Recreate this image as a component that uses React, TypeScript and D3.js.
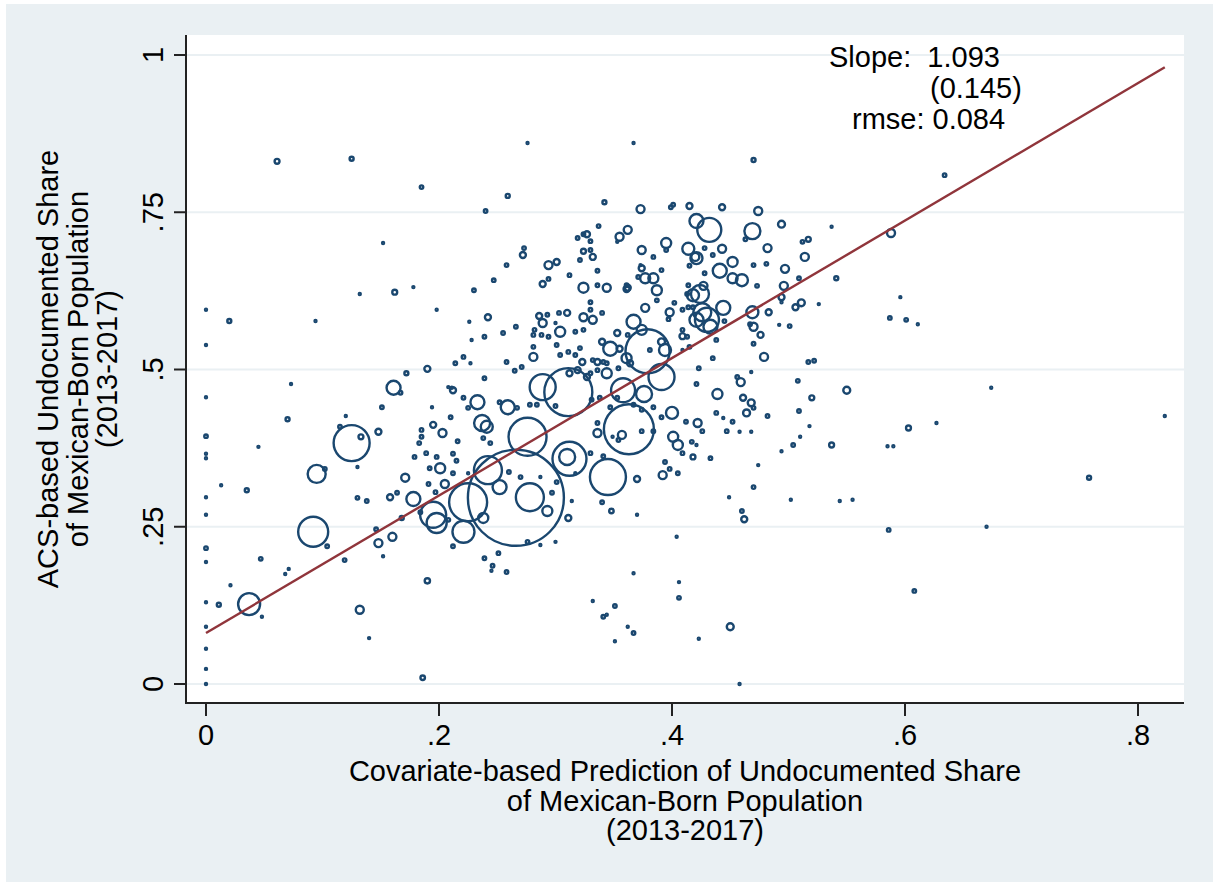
import React from 'react';
import * as d3 from 'd3';

// Axis ticks
const xTicks = [0, 0.2, 0.4, 0.6, 0.8];
const xTickLabels = ['0', '.2', '.4', '.6', '.8'];
const yTicks = [0, 0.25, 0.5, 0.75, 1];
const yTickLabels = ['0', '.25', '.5', '.75', '1'];

// Weighted least-squares fit reported on the chart
const fitSlope = 1.093;
const fitSE = 0.145;
const fitRmse = 0.084;
const fitIntercept = 0.081;

// Titles
const xTitle = ['Covariate-based Prediction of Undocumented Share', 'of Mexican-Born Population', '(2013-2017)'];
const yTitle = ['ACS-based Undocumented Share', 'of Mexican-Born Population', '(2013-2017)'];

// Areas: [covariate-based prediction, ACS-based share, Mexican-born population (thousands)]
const largeAreas: [number, number, number][] = [
  [0.266, 0.296, 2304], [0.363, 0.405, 625], [0.311, 0.464, 576], [0.379, 0.529, 484], [0.276, 0.393, 361],
  [0.345, 0.329, 324], [0.312, 0.358, 289], [0.225, 0.289, 361], [0.125, 0.383, 324], [0.092, 0.242, 225],
  [0.278, 0.297, 196], [0.242, 0.340, 196], [0.289, 0.472, 169], [0.195, 0.269, 169], [0.391, 0.488, 169],
  [0.358, 0.467, 144], [0.432, 0.722, 144], [0.430, 0.579, 144], [0.198, 0.256, 100], [0.221, 0.242, 121],
  [0.037, 0.127, 121], [0.310, 0.361, 64], [0.376, 0.461, 64], [0.469, 0.720, 64], [0.095, 0.334, 81],
  [0.424, 0.620, 81], [0.426, 0.591, 81], [0.367, 0.576, 49], [0.233, 0.448, 49], [0.237, 0.415, 64],
  [0.259, 0.440, 49], [0.252, 0.313, 49], [0.178, 0.294, 49], [0.161, 0.471, 49], [0.421, 0.579, 49],
  [0.421, 0.736, 49], [0.441, 0.657, 49], [0.444, 0.598, 49], [0.433, 0.568, 49], [0.347, 0.533, 49],
  [0.418, 0.618, 36], [0.460, 0.642, 36], [0.414, 0.692, 36], [0.421, 0.677, 36], [0.469, 0.591, 36],
  [0.241, 0.409, 36], [0.400, 0.431, 36], [0.394, 0.531, 36],
];

const mediumAreas: [number, number, number][] = [
  [0.293, 0.275, 25], [0.238, 0.264, 25], [0.201, 0.343, 25], [0.401, 0.393, 25], [0.405, 0.380, 25],
  [0.344, 0.494, 25], [0.304, 0.560, 25], [0.374, 0.563, 25], [0.395, 0.701, 25], [0.452, 0.671, 25],
  [0.452, 0.645, 25], [0.377, 0.645, 25], [0.384, 0.645, 25], [0.387, 0.626, 25], [0.361, 0.518, 25],
  [0.324, 0.630, 25], [0.439, 0.461, 25], [0.470, 0.568, 16], [0.205, 0.318, 16], [0.203, 0.399, 16],
  [0.336, 0.399, 16], [0.357, 0.396, 16], [0.392, 0.332, 16], [0.324, 0.583, 16], [0.332, 0.579, 16],
  [0.281, 0.520, 16], [0.344, 0.630, 16], [0.398, 0.591, 16], [0.377, 0.598, 16], [0.289, 0.574, 16],
  [0.132, 0.118, 16], [0.148, 0.224, 16], [0.160, 0.234, 16], [0.171, 0.328, 16], [0.373, 0.755, 16],
  [0.474, 0.752, 16], [0.482, 0.693, 16], [0.514, 0.679, 16], [0.443, 0.692, 16], [0.497, 0.660, 16],
  [0.496, 0.633, 16], [0.427, 0.633, 16], [0.479, 0.520, 16], [0.459, 0.480, 16], [0.294, 0.666, 16],
  [0.374, 0.690, 16], [0.420, 0.679, 16], [0.362, 0.722, 16], [0.355, 0.711, 16], [0.588, 0.717, 16],
  [0.550, 0.467, 12], [0.422, 0.415, 16], [0.464, 0.431, 12], [0.468, 0.447, 12], [0.461, 0.455, 9],
  [0.462, 0.262, 9], [0.450, 0.091, 12], [0.494, 0.731, 12], [0.483, 0.591, 9], [0.494, 0.615, 9],
  [0.506, 0.599, 9], [0.511, 0.606, 12], [0.476, 0.555, 9], [0.415, 0.760, 9], [0.443, 0.758, 9],
  [0.409, 0.553, 9], [0.391, 0.544, 12], [0.353, 0.558, 9], [0.340, 0.544, 9], [0.355, 0.533, 9],
  [0.336, 0.512, 9], [0.364, 0.510, 9], [0.323, 0.512, 9], [0.319, 0.499, 9], [0.327, 0.488, 9],
  [0.312, 0.494, 9], [0.310, 0.590, 9], [0.361, 0.628, 9], [0.374, 0.661, 9], [0.301, 0.671, 9],
  [0.332, 0.679, 9], [0.327, 0.715, 9], [0.289, 0.636, 9], [0.272, 0.682, 9], [0.362, 0.630, 9],
  [0.158, 0.297, 9], [0.148, 0.401, 9], [0.212, 0.467, 9], [0.195, 0.412, 9], [0.311, 0.264, 9],
  [0.370, 0.326, 9], [0.286, 0.585, 9], [0.242, 0.583, 9], [0.190, 0.501, 9],
];

const smallAreas: [number, number, number][] = [
  [0.178, 0.631, 1], [0.230, 0.626, 3], [0.198, 0.595, 1], [0.226, 0.576, 1], [0.266, 0.568, 3],
  [0.255, 0.558, 3], [0.239, 0.552, 3], [0.228, 0.547, 1], [0.214, 0.510, 3], [0.221, 0.520, 3],
  [0.227, 0.510, 1], [0.258, 0.512, 3], [0.265, 0.498, 3], [0.271, 0.504, 3], [0.172, 0.494, 4],
  [0.239, 0.486, 3], [0.211, 0.471, 1], [0.221, 0.455, 3], [0.194, 0.440, 1], [0.210, 0.424, 3],
  [0.225, 0.439, 3], [0.252, 0.448, 3], [0.267, 0.439, 3], [0.278, 0.444, 3], [0.284, 0.444, 3],
  [0.300, 0.442, 3], [0.185, 0.404, 3], [0.185, 0.393, 3], [0.183, 0.383, 3], [0.216, 0.386, 3],
  [0.238, 0.391, 3], [0.244, 0.383, 3], [0.179, 0.361, 3], [0.189, 0.367, 3], [0.198, 0.361, 3],
  [0.212, 0.366, 3], [0.215, 0.355, 3], [0.192, 0.343, 3], [0.212, 0.335, 3], [0.225, 0.335, 1],
  [0.260, 0.337, 3], [0.270, 0.329, 3], [0.287, 0.329, 1], [0.301, 0.321, 3], [0.297, 0.304, 3],
  [0.314, 0.291, 1], [0.317, 0.335, 1], [0.330, 0.367, 3], [0.341, 0.362, 3], [0.340, 0.289, 3],
  [0.348, 0.275, 5], [0.370, 0.269, 1], [0.184, 0.273, 3], [0.197, 0.305, 3], [0.208, 0.261, 3],
  [0.212, 0.219, 3], [0.239, 0.200, 3], [0.246, 0.188, 3], [0.258, 0.178, 3], [0.251, 0.208, 3],
  [0.276, 0.226, 3], [0.287, 0.221, 1], [0.300, 0.226, 1], [0.367, 0.176, 1], [0.404, 0.234, 1],
  [0.412, 0.417, 3], [0.417, 0.385, 3], [0.418, 0.361, 6], [0.394, 0.353, 3], [0.398, 0.342, 3],
  [0.405, 0.335, 3], [0.367, 0.444, 3], [0.374, 0.436, 3], [0.384, 0.440, 3], [0.391, 0.424, 3],
  [0.374, 0.402, 3], [0.384, 0.402, 3], [0.409, 0.367, 3], [0.338, 0.455, 3], [0.331, 0.452, 3],
  [0.347, 0.440, 3], [0.353, 0.455, 3], [0.336, 0.415, 3], [0.349, 0.393, 1], [0.354, 0.388, 3],
  [0.413, 0.552, 3], [0.409, 0.563, 3], [0.409, 0.595, 3], [0.414, 0.634, 3], [0.418, 0.599, 3],
  [0.336, 0.499, 3], [0.330, 0.494, 3], [0.317, 0.523, 3], [0.321, 0.534, 3], [0.311, 0.528, 3],
  [0.304, 0.523, 3], [0.301, 0.539, 3], [0.294, 0.552, 3], [0.281, 0.536, 3], [0.281, 0.555, 3],
  [0.282, 0.563, 3], [0.288, 0.555, 3], [0.303, 0.590, 3], [0.293, 0.587, 3],
  [0.073, 0.477, 1], [0, 0.456, 1], [0.070, 0.421, 4], [0.151, 0.440, 3], [0.167, 0.463, 3],
  [0.120, 0.426, 1], [0, 0.394, 3], [0.133, 0.393, 6], [0.115, 0.409, 3], [0.045, 0.377, 1],
  [0, 0.366, 1], [0, 0.359, 1], [0.102, 0.342, 3], [0.130, 0.345, 1], [0.013, 0.316, 1],
  [0.035, 0.308, 4], [0, 0.297, 1], [0, 0.269, 1], [0.104, 0.219, 3], [0.130, 0.296, 3],
  [0.138, 0.291, 3], [0.146, 0.246, 3], [0.152, 0.203, 1], [0.119, 0.197, 3], [0.168, 0.264, 4],
  [0, 0.216, 3], [0, 0.194, 1], [0.047, 0.199, 3], [0.071, 0.183, 1], [0.068, 0.175, 1],
  [0.021, 0.157, 1], [0.011, 0.126, 4], [0.048, 0.107, 1], [0, 0.130, 1], [0, 0.091, 1],
  [0, 0.056, 1], [0, 0.024, 1], [0, 0, 1], [0.140, 0.073, 1], [0.190, 0.164, 7],
  [0.186, 0.010, 5], [0.164, 0.304, 3], [0.208, 0.472, 1], [0.191, 0.318, 3], [0, 0.595, 1],
  [0, 0.539, 1],
  [0.061, 0.831, 6], [0.125, 0.835, 4], [0.152, 0.701, 1], [0.132, 0.620, 1], [0.162, 0.623, 6],
  [0.020, 0.577, 4], [0.094, 0.577, 1],
  [0.276, 0.860, 1], [0.367, 0.860, 1], [0.185, 0.790, 3], [0.259, 0.776, 4], [0.240, 0.752, 3],
  [0.342, 0.766, 4], [0.399, 0.758, 3], [0.401, 0.762, 3], [0.415, 0.665, 3], [0.395, 0.690, 3],
  [0.384, 0.679, 3], [0.353, 0.703, 1], [0.337, 0.728, 3], [0.319, 0.709, 3], [0.330, 0.704, 3],
  [0.324, 0.688, 6], [0.330, 0.690, 3], [0.321, 0.674, 3], [0.336, 0.657, 3], [0.336, 0.634, 3],
  [0.273, 0.693, 3], [0.258, 0.666, 3], [0.247, 0.642, 3], [0.312, 0.650, 3], [0.294, 0.644, 3],
  [0.373, 0.666, 1], [0.391, 0.658, 3], [0.371, 0.647, 3],
  [0.470, 0.833, 4], [0.463, 0.707, 3], [0.512, 0.703, 3], [0.517, 0.707, 6], [0.428, 0.693, 3],
  [0.435, 0.682, 3], [0.481, 0.668, 3], [0.470, 0.666, 3], [0.509, 0.645, 3], [0.473, 0.633, 3],
  [0.541, 0.645, 4], [0.537, 0.727, 1], [0.428, 0.653, 3], [0.413, 0.620, 3], [0.414, 0.599, 3],
  [0.402, 0.606, 3], [0.397, 0.580, 3], [0.445, 0.577, 3], [0.467, 0.572, 3], [0.470, 0.541, 3],
  [0.492, 0.571, 1], [0.501, 0.569, 3], [0.494, 0.607, 1], [0.526, 0.604, 1], [0.517, 0.512, 3],
  [0.522, 0.514, 3], [0.508, 0.482, 3], [0.468, 0.496, 1], [0.456, 0.488, 3], [0.435, 0.518, 3],
  [0.438, 0.547, 3], [0.421, 0.477, 3], [0.423, 0.502, 3], [0.415, 0.536, 3], [0.409, 0.531, 1],
  [0.362, 0.555, 3], [0.344, 0.510, 3], [0.354, 0.502, 3], [0.381, 0.531, 3], [0.317, 0.560, 3],
  [0.300, 0.574, 1], [0.332, 0.515, 3], [0.341, 0.512, 3], [0.330, 0.595, 3], [0.330, 0.607, 3],
  [0.324, 0.563, 3], [0.340, 0.590, 3], [0.387, 0.610, 3], [0.324, 0.715, 3], [0.361, 0.634, 3],
  [0.470, 0.439, 3], [0.520, 0.455, 6], [0.438, 0.431, 3], [0.444, 0.423, 1], [0.452, 0.417, 3],
  [0.482, 0.426, 3], [0.509, 0.434, 3], [0.426, 0.402, 3], [0.447, 0.402, 3], [0.458, 0.401, 1],
  [0.468, 0.401, 1], [0.518, 0.410, 1], [0.510, 0.393, 1], [0.504, 0.380, 3], [0.537, 0.380, 6],
  [0.494, 0.370, 1], [0.421, 0.380, 1], [0.433, 0.359, 3], [0.474, 0.348, 1], [0.470, 0.313, 3],
  [0.449, 0.297, 1], [0.502, 0.293, 1], [0.544, 0.291, 1], [0.555, 0.293, 1], [0.460, 0.275, 3],
  [0.586, 0.245, 3], [0.603, 0.407, 6], [0.627, 0.415, 1], [0.585, 0.378, 1], [0.590, 0.378, 1],
  [0.608, 0.148, 3], [0.423, 0.072, 1], [0.458, 0, 1],
  [0.245, 0.180, 1], [0.406, 0.162, 1], [0.406, 0.137, 3], [0.332, 0.132, 1], [0.351, 0.124, 3],
  [0.341, 0.107, 3], [0.344, 0.110, 1], [0.362, 0.091, 1], [0.367, 0.081, 3], [0.351, 0.068, 1],
  [0.634, 0.809, 3], [0.596, 0.615, 1], [0.587, 0.582, 3], [0.601, 0.579, 3], [0.611, 0.572, 1],
  [0.674, 0.471, 1], [0.823, 0.426, 1], [0.758, 0.328, 4], [0.670, 0.250, 1],
];

const areas = [...largeAreas, ...mediumAreas, ...smallAreas];

const FONT = '"Liberation Sans", Arial, Helvetica, sans-serif';
const NAVY = '#1a476f';
const MAROON = '#90353b';
const BG = '#eaf0f3';

export default function App() {
  const plotLeft = 186;
  const plotRight = 1184;
  const plotTop = 35;
  const plotBottom = 703;

  const x = d3.scaleLinear().domain([0, 0.8]).range([206, 1138]);
  const y = d3.scaleLinear().domain([0, 1]).range([684, 55]);
  const maxPop = d3.max(areas, (d) => d[2]) as number;
  const r = d3.scaleSqrt().domain([0, maxPop]).range([0, 48]);

  const xExtent = d3.extent(areas, (d) => d[0]) as [number, number];
  const fitLine = d3
    .line<number>()
    .x((v) => x(v))
    .y((v) => y(fitIntercept + fitSlope * v));

  return (
    <svg
      width={1213}
      height={882}
      style={{ position: 'absolute', left: 0, top: 0, fontFamily: FONT }}
    >
      <rect x={0} y={0} width={1213} height={882} fill="#ffffff" />
      <rect x={6} y={4} width={1207} height={878} fill={BG} />
      <rect x={plotLeft} y={plotTop} width={plotRight - plotLeft} height={plotBottom - plotTop} fill="#ffffff" />

      {/* horizontal grid */}
      {yTicks.map((t) => (
        <line key={'g' + t} x1={plotLeft} x2={plotRight} y1={y(t)} y2={y(t)} stroke={BG} strokeWidth={2} />
      ))}

      {/* markers */}
      <g fill="none" stroke={NAVY} strokeWidth={2.4}>
        {areas.map((d, i) => (
          <circle key={i} cx={x(d[0])} cy={y(d[1])} r={r(d[2])} />
        ))}
      </g>

      {/* fitted line */}
      <path d={fitLine(xExtent) as string} fill="none" stroke={MAROON} strokeWidth={2.4} />

      {/* axes */}
      <line x1={plotLeft} x2={plotLeft} y1={plotTop} y2={plotBottom + 1} stroke="#222" strokeWidth={2} />
      <line x1={plotLeft - 1} x2={plotRight} y1={plotBottom} y2={plotBottom} stroke="#222" strokeWidth={2} />

      {yTicks.map((t, i) => (
        <g key={'yt' + t}>
          <line x1={plotLeft - 12} x2={plotLeft} y1={y(t)} y2={y(t)} stroke="#222" strokeWidth={2} />
          <text
            transform={`translate(163,${y(t)}) rotate(-90)`}
            textAnchor="middle"
            fontSize={29}
            fill="#000"
          >
            {yTickLabels[i]}
          </text>
        </g>
      ))}

      {xTicks.map((t, i) => (
        <g key={'xt' + t}>
          <line x1={x(t)} x2={x(t)} y1={plotBottom} y2={plotBottom + 13} stroke="#222" strokeWidth={2} />
          <text x={x(t)} y={745} textAnchor="middle" fontSize={29} fill="#000">
            {xTickLabels[i]}
          </text>
        </g>
      ))}

      {/* axis titles */}
      {xTitle.map((s, i) => (
        <text key={'xa' + i} x={(plotLeft + plotRight) / 2} y={781 + i * 29.5} textAnchor="middle" fontSize={29} fill="#000">
          {s}
        </text>
      ))}
      {yTitle.map((s, i) => (
        <text
          key={'ya' + i}
          transform={`translate(${58 + i * 29.5},${(plotTop + plotBottom) / 2}) rotate(-90)`}
          textAnchor="middle"
          fontSize={29}
          fill="#000"
        >
          {s}
        </text>
      ))}

      {/* fit statistics */}
      <g fontSize={29} fill="#000" style={{ whiteSpace: 'pre' }}>
        <text x={829} y={67} xmlSpace="preserve">{`Slope:  ${fitSlope.toFixed(3)}`}</text>
        <text x={930} y={98}>{`(${fitSE.toFixed(3)})`}</text>
        <text x={852} y={129} xmlSpace="preserve">{`rmse: ${fitRmse.toFixed(3)}`}</text>
      </g>
    </svg>
  );
}
